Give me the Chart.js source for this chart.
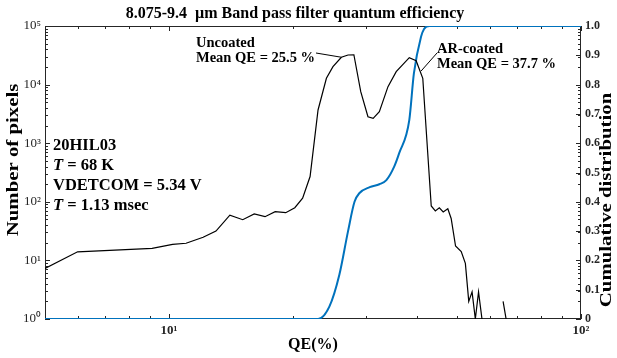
<!DOCTYPE html>
<html>
<head>
<meta charset="utf-8">
<script src="https://cdn.jsdelivr.net/npm/chart.js@4.4.0/dist/chart.umd.min.js"></script>
<style>
  html, body { margin: 0; padding: 0; background: #fff; }
  #wrap { width: 617px; height: 358px; }
</style>
</head>
<body>
<div id="wrap"><canvas id="qe" width="617" height="358"></canvas></div>
<script>
// histogram of pixel QE (%), left axis
const histQE = [5.0, 6.0, 9.1, 10.2, 11.0, 12.1, 13.0, 14.05, 15.1, 16.1, 17.1, 18.1, 19.2, 20.2, 21.1, 22.0,
  23.0, 24.1, 25.0, 26.2, 27.2, 28.1, 29.2, 30.4, 31.3, 32.4, 34.0, 35.6, 38.3, 39.8, 41.3, 43.3,
  44.3, 45.3, 46.3, 47.5, 48.4, 49.6, 51.2, 52.4, 53.4, 54.4, 55.4, 56.4, 57.5, 61.0, 64.7, 65.8];
const histCounts = [7.3, 14, 16, 18.8, 19.6, 24.8, 31.7, 59, 49.5, 62, 55.7, 67.8, 65.2, 79.4, 115, 270,
  3690, 12800, 20200, 29300, 32000, 32300, 7570, 2830, 2660, 3450, 9230, 16600, 28800, 25600, 12800, 85,
  70, 79, 67, 76, 52, 17.6, 14.1, 8.9, 2.0, 2.9, 1, 2.9, 1, null, 2, 1];

// cumulative distribution, right axis
const cdfQE = [5, 23.0, 24.5, 25.9, 27.2, 28.2, 29.0, 30.7, 32.4, 33.7, 35.2, 36.2, 38.3, 39.3, 40.9, 41.6, 42.9, 100];
const cdfValues = [0, 0, 0.042, 0.15, 0.30, 0.40, 0.43, 0.45, 0.46, 0.474, 0.52, 0.566, 0.679, 0.838, 0.963, 0.99, 1.0, 1.0];

const xTicks = [10, 100];
const yTicks = [1, 10, 100, 1000, 10000, 100000];

// mean QE callouts: label lines and the point on the histogram they point to
const callouts = [
  { lines: ['Uncoated', 'Mean QE = 25.5 %'], x: 196, y: 47, from: [316, 53], qe: 26.2, count: 29300 },
  { lines: ['AR-coated', 'Mean QE = 37.7 %'], x: 437, y: 53, from: [437, 53], qe: 40.9, count: 17000 }
];
const infoLines = [
  [['20HIL03', false]],
  [['T', true], [' = 68 K', false]],
  [['VDETCOM = 5.34 V', false]],
  [['T', true], [' = 1.13 msec', false]]
];

const SERIF = '"Liberation Serif", "Times New Roman", serif';
const AXIS = '#262626';
const sup = { '0': '\u2070', '1': '\u00b9', '2': '\u00b2', '3': '\u00b3', '4': '\u2074', '5': '\u2075' };
const powLabel = (v) => '10' + sup[String(Math.round(Math.log10(v)))];

function minorLog(lo, hi) {
  const out = [];
  for (let p = Math.floor(Math.log10(lo)); p <= Math.ceil(Math.log10(hi)); p++) {
    for (let m = 1; m <= 9; m++) {
      const v = m * Math.pow(10, p);
      if (v >= lo && v <= hi) out.push({ v, major: m === 1 });
    }
  }
  return out;
}

// box and inward tick marks, MATLAB style
const frame = {
  id: 'frame',
  beforeDatasetsDraw(chart) {
    const { ctx, chartArea: a, scales } = chart;
    ctx.save();
    ctx.strokeStyle = AXIS;
    ctx.lineWidth = 1;
    ctx.strokeRect(Math.round(a.left) + 0.5, Math.round(a.top) + 0.5,
      Math.round(a.right - a.left) - 1, Math.round(a.bottom - a.top) - 1);
    ctx.beginPath();
    minorLog(scales.x.min, scales.x.max).forEach(t => {
      const px = Math.round(scales.x.getPixelForValue(t.v)) + 0.5;
      const len = t.major ? 5 : 3;
      ctx.moveTo(px, a.bottom); ctx.lineTo(px, a.bottom - len);
      ctx.moveTo(px, a.top); ctx.lineTo(px, a.top + len);
    });
    minorLog(scales.y.min, scales.y.max).forEach(t => {
      const py = Math.round(scales.y.getPixelForValue(t.v)) + 0.5;
      const len = t.major ? 5 : 3;
      ctx.moveTo(a.left, py); ctx.lineTo(a.left + len, py);
      ctx.moveTo(a.right, py); ctx.lineTo(a.right - len, py);
    });
    scales.y2.ticks.forEach(t => {
      const py = Math.round(scales.y2.getPixelForValue(t.value)) + 0.5;
      ctx.moveTo(a.right, py); ctx.lineTo(a.right - 5, py);
    });
    ctx.stroke();
    ctx.restore();
  },
  afterDraw(chart) {
    const { ctx, chartArea: a, scales } = chart;
    ctx.save();
    ctx.fillStyle = '#000';
    ctx.textAlign = 'center';
    ctx.textBaseline = 'alphabetic';
    ctx.font = 'bold 16px ' + SERIF;
    ctx.fillText('8.075-9.4  \u00b5m Band pass filter quantum efficiency', 295, 18);
    ctx.fillText('QE(%)', (a.left + a.right) / 2, 349);

    // rotated axis titles
    ctx.textBaseline = 'middle';
    ctx.save();
    ctx.translate(14, 160);
    ctx.rotate(-Math.PI / 2);
    ctx.scale(1.3, 1);
    ctx.fillText('Number of pixels', 0, 0);
    ctx.restore();
    ctx.save();
    ctx.translate(607, 200);
    ctx.rotate(-Math.PI / 2);
    ctx.scale(1.3, 1);
    ctx.fillText('Cumulative distribution', 0, 0);
    ctx.restore();

    // run info block
    ctx.textAlign = 'left';
    ctx.textBaseline = 'alphabetic';
    infoLines.forEach((parts, i) => {
      let x = 53;
      parts.forEach(([txt, ital]) => {
        ctx.font = (ital ? 'italic bold ' : 'bold ') + '16.5px ' + SERIF;
        ctx.fillText(txt, x, 150 + i * 20);
        x += ctx.measureText(txt).width;
      });
    });

    // callouts
    ctx.font = 'bold 14.5px ' + SERIF;
    ctx.strokeStyle = '#000';
    ctx.lineWidth = 1;
    callouts.forEach(c => {
      c.lines.forEach((l, i) => ctx.fillText(l, c.x, c.y + i * 15));
      ctx.beginPath();
      ctx.moveTo(c.from[0], c.from[1]);
      ctx.lineTo(scales.x.getPixelForValue(c.qe), scales.y.getPixelForValue(c.count));
      ctx.stroke();
    });
    ctx.restore();
  }
};

new Chart(document.getElementById('qe'), {
  type: 'line',
  data: {
    datasets: [
      {
        label: 'Number of pixels',
        data: histQE.map((q, i) => ({ x: q, y: histCounts[i] })),
        yAxisID: 'y',
        borderColor: '#000',
        borderWidth: 1.2,
        pointRadius: 0,
        tension: 0,
        spanGaps: false
      },
      {
        label: 'Cumulative distribution',
        data: cdfQE.map((q, i) => ({ x: q, y: cdfValues[i] })),
        yAxisID: 'y2',
        borderColor: '#0072BD',
        borderWidth: 2,
        pointRadius: 0,
        cubicInterpolationMode: 'monotone'
      }
    ]
  },
  options: {
    responsive: false,
    animation: false,
    layout: { padding: { top: 26, left: 0, right: 0, bottom: 0 } },
    plugins: { legend: { display: false }, title: { display: false }, tooltip: { enabled: false } },
    scales: {
      x: {
        type: 'logarithmic',
        position: 'bottom',
        min: 5,
        max: 100,
        grid: { display: false, drawTicks: false },
        border: { display: false },
        afterBuildTicks: (s) => { s.ticks = xTicks.map(v => ({ value: v })); },
        afterFit: (s) => { s.height = 39; },
        ticks: {
          autoSkip: false, maxRotation: 0, padding: 4, color: AXIS,
          font: { family: SERIF, size: 13, weight: 'bold' },
          callback: (v) => powLabel(v)
        }
      },
      y: {
        type: 'logarithmic',
        position: 'left',
        min: 1,
        max: 100000,
        grid: { display: false, drawTicks: false },
        border: { display: false },
        afterBuildTicks: (s) => { s.ticks = yTicks.map(v => ({ value: v })); },
        afterFit: (s) => { s.width = 45; },
        ticks: {
          autoSkip: false, padding: 4, color: AXIS,
          font: { family: SERIF, size: 13 },
          callback: (v) => powLabel(v)
        }
      },
      y2: {
        type: 'linear',
        position: 'right',
        min: 0,
        max: 1,
        grid: { display: false, drawTicks: false },
        border: { display: false },
        afterFit: (s) => { s.width = 36; },
        ticks: {
          stepSize: 0.1, autoSkip: false, padding: 4, color: AXIS,
          font: { family: SERIF, size: 12, weight: 'bold' }
        }
      }
    }
  },
  plugins: [frame]
});
</script>
</body>
</html>
